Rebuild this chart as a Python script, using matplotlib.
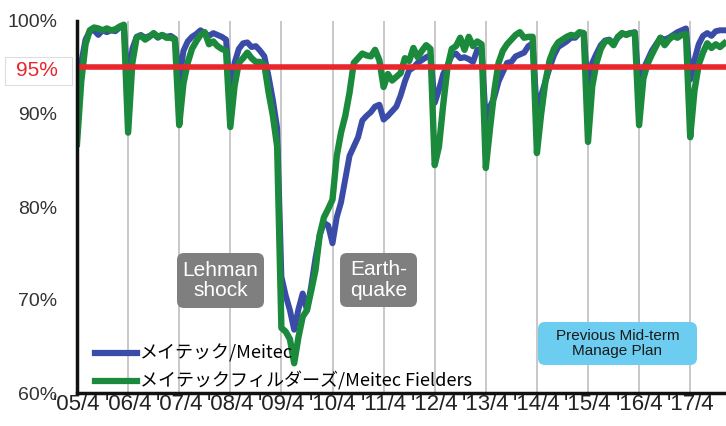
import numpy as np
import matplotlib
matplotlib.use("Agg")
import matplotlib.pyplot as plt
from matplotlib import font_manager as fm
from matplotlib.patches import FancyBboxPatch, Rectangle

# Monthly utilization (%), April 2005 through December 2017
meitec = [
    94.0, 95.5, 98.0, 98.9, 99.0, 98.5, 99.0, 98.8, 99.0, 98.9, 99.3, 99.4,   # FY2005
    92.8, 97.0, 98.3, 98.5, 98.2, 98.4, 98.6, 98.2, 98.5, 98.3, 98.4, 98.1,   # FY2006
    93.5, 96.8, 97.8, 98.3, 98.6, 99.0, 98.7, 98.4, 98.7, 98.5, 98.3, 98.0,   # FY2007
    92.0, 95.5, 97.0, 97.6, 97.7, 97.2, 97.3, 96.8, 96.2, 94.0, 91.5, 88.5,   # FY2008
    72.5, 70.5, 68.9, 66.8, 69.0, 70.7, 68.9, 71.5, 74.5, 77.0, 78.3, 78.0,   # FY2009
    76.1, 78.9, 80.5, 83.0, 85.5, 86.5, 87.5, 89.3, 89.8, 90.2, 90.8, 91.0,   # FY2010
    89.4, 89.8, 90.3, 90.8, 92.0, 93.5, 94.7, 95.0, 95.5, 95.8, 96.1, 96.3,   # FY2011
    91.2, 92.6, 94.3, 95.2, 96.3, 96.5, 96.0, 96.1, 95.9, 95.6, 96.9, 97.0,   # FY2012
    89.2, 90.8, 91.8, 93.5, 94.5, 95.5, 95.6, 96.2, 96.4, 96.6, 97.3, 97.6,   # FY2013
    90.1, 92.0, 93.5, 95.0, 96.3, 97.2, 97.5, 97.8, 98.2, 98.2, 98.7, 98.6,   # FY2014
    92.6, 95.5, 96.5, 97.4, 97.9, 98.0, 97.6, 98.2, 98.6, 98.6, 98.7, 98.8,   # FY2015
    92.6, 94.8, 95.8, 96.8, 97.5, 98.2, 98.0, 98.2, 98.5, 98.8, 99.0, 99.2,   # FY2016
    93.7, 95.8, 97.5, 98.4, 98.7, 98.4, 98.9, 99.0, 99.0,                     # FY2017
]
fielders = [
    86.8, 93.5, 97.5, 99.0, 99.3, 99.2, 99.0, 99.2, 99.0, 99.1, 99.4, 99.6,
    88.0, 95.5, 98.2, 98.4, 98.0, 98.3, 98.7, 98.3, 98.5, 98.2, 98.2, 98.0,
    88.8, 93.3, 95.5, 97.0, 97.8, 98.5, 98.8, 97.5, 97.8, 97.3, 97.0, 96.8,
    88.6, 93.0, 95.5, 96.0, 96.6, 96.0, 95.6, 95.6, 95.3, 92.3, 89.8, 86.5,
    67.0, 66.6, 65.8, 63.2, 66.0, 68.2, 68.9, 71.0, 73.2, 77.0, 78.9, 79.8,
    80.8, 85.5, 88.0, 89.8, 92.3, 95.5, 96.0, 96.5, 96.3, 96.2, 96.9, 95.8,
    92.9, 94.3, 93.6, 94.0, 94.4, 96.0, 95.7, 97.1, 96.1, 96.8, 97.4, 97.0,
    84.5, 86.5, 91.0, 95.0, 97.0, 97.3, 98.2, 96.9, 98.3, 97.3, 97.8, 97.5,
    84.2, 88.5, 92.5, 95.5, 96.8, 97.5, 98.0, 98.5, 98.8, 98.2, 98.3, 98.3,
    85.8, 90.0, 93.5, 95.8, 97.0, 97.7, 98.0, 98.3, 98.5, 98.4, 98.8, 98.7,
    87.0, 93.0, 95.5, 97.0, 97.8, 97.9, 97.4, 98.3, 98.7, 98.5, 98.7, 98.7,
    88.8, 93.8, 95.4, 96.4, 97.3, 98.2, 97.4, 98.0, 98.4, 98.2, 98.5, 98.6,
    87.5, 92.5, 95.3, 96.6, 97.6, 97.1, 97.5, 97.2, 97.6,
]
year_labels = ["'05/4", "'06/4", "'07/4", "'08/4", "'09/4", "'10/4", "'11/4",
               "'12/4", "'13/4", "'14/4", "'15/4", "'16/4", "'17/4"]
y_ticks = [60, 70, 80, 90, 100]
target = 95
series_names = ["メイテック/Meitec", "メイテックフィルダーズ/Meitec Fielders"]

BLUE = "#3a4ca8"
GREEN = "#1b8a3c"
RED = "#e8262c"

available = {f.name for f in fm.fontManager.ttflist}
label_font = "Liberation Sans" if "Liberation Sans" in available else "DejaVu Sans"
cjk = ["Noto Sans CJK JP", "DejaVu Sans"]

fig = plt.figure(figsize=(7.26, 4.26), dpi=100)
W, H = 726, 426
ax = fig.add_axes([77 / W, 33 / H, 649 / W, 372 / H])

months = np.arange(len(meitec))
ax.plot(months, meitec, color=BLUE, lw=4.3, solid_joinstyle="round", zorder=3)
ax.plot(np.arange(len(fielders)), fielders, color=GREEN, lw=4.6,
        solid_joinstyle="round", zorder=4)
ax.axhline(target, color=RED, lw=4.0, zorder=5)

ax.set_xlim(0, 649 / (51.1 / 12))
ax.set_ylim(60, 100)

ax.set_xticks(np.arange(len(year_labels)) * 12)
ax.set_xticklabels(year_labels, family=label_font, fontsize=16, color="#222222")
ax.set_yticks(y_ticks)
ax.set_yticklabels([f"{v}%" for v in y_ticks], family=label_font, fontsize=14,
                   color="#333333")
ax.tick_params(axis="both", length=0)
ax.tick_params(axis="y", pad=14)
ax.tick_params(axis="x", pad=1)
ax.grid(axis="x", color="#c4c4c4", lw=1.3, zorder=1)
ax.grid(axis="y", visible=False)
for side in ("top", "right"):
    ax.spines[side].set_visible(False)
for side in ("left", "bottom"):
    ax.spines[side].set_linewidth(2.5)
    ax.spines[side].set_color("#111111")
    ax.spines[side].set_zorder(6)

# red label for the 95% target line, in its own framed cell
fig.patches.append(Rectangle((5 / W, 1 - 85 / H), 67 / W, 28 / H,
                             transform=fig.transFigure, fc="white",
                             ec="#dddddd", lw=0.8, zorder=2))
fig.text(37 / W, 1 - 71 / H, "95%", ha="center", va="center", color=RED,
         family=label_font, fontsize=15, zorder=10)

leg = ax.legend(series_names, loc="lower left", bbox_to_anchor=(18 / 649, 2 / 372),
                frameon=False, handlelength=2.3, handletextpad=0.2,
                labelspacing=0.5, borderaxespad=0, borderpad=0,
                prop={"family": cjk, "size": 13})
for line in leg.get_lines():
    line.set_linewidth(4.5)


def label_box(x0, y0, x1, y1, text, fc, tc, size):
    """Rounded box given in pixel coordinates (origin top-left)."""
    to_in = lambda v: v / 100
    box = FancyBboxPatch((to_in(x0), to_in(H - y1)), to_in(x1 - x0), to_in(y1 - y0),
                         boxstyle="round,pad=0,rounding_size=0.07",
                         transform=fig.dpi_scale_trans, fc=fc, ec="none", zorder=7)
    fig.patches.append(box)
    fig.text((x0 + x1) / 2 / W, 1 - (y0 + y1) / 2 / H, text, ha="center", va="center",
             color=tc, family=label_font, fontsize=size, linespacing=1.1, zorder=8)


label_box(177, 253, 264, 308, "Lehman\nshock", "#7f7f7f", "white", 15)
label_box(340, 253, 417, 307, "Earth-\nquake", "#7f7f7f", "white", 15)
label_box(538, 322, 697, 365, "Previous Mid-term\nManage Plan", "#6dcdf0", "#1a1a1a", 11)

fig.savefig("out.png", dpi=100)
